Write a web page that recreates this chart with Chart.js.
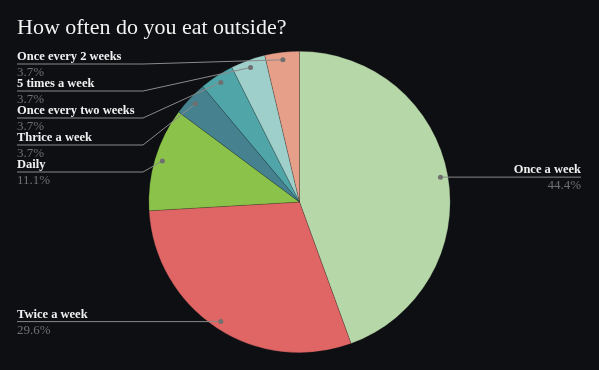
<!DOCTYPE html>
<html>
<head>
<meta charset="utf-8">
<script src="https://cdn.jsdelivr.net/npm/chart.js@4/dist/chart.umd.min.js"></script>
<style>
  html, body { margin: 0; padding: 0; background: #0e0f12; }
  #wrap { width: 599px; height: 370px; position: relative; }
</style>
</head>
<body>
<div id="wrap"><canvas id="pie"></canvas></div>
<script>
// Données du graphique
var titleText = "How often do you eat outside?";
var categories = ["Once a week", "Twice a week", "Daily", "Thrice a week", "Once every two weeks", "5 times a week", "Once every 2 weeks"];
var counts = [12, 8, 3, 1, 1, 1, 1];
var percentLabels = ["44.4%", "29.6%", "11.1%", "3.7%", "3.7%", "3.7%", "3.7%"];
var sliceColors = ["#b6d7a8", "#e06666", "#8bc34a", "#45818e", "#4fa5a8", "#9ecfca", "#e69f89"];

var serif = "'Liberation Serif', 'Times New Roman', serif";

// Titre + étiquettes avec lignes de rappel
var calloutPlugin = {
    id: "callouts",
    beforeDraw: function(chart) {
        var ctx = chart.ctx;
        ctx.save();
        ctx.fillStyle = "#0e0f12";
        ctx.fillRect(0, 0, chart.width, chart.height);
        ctx.fillStyle = "#f2f2f2";
        ctx.font = "22px " + serif;
        ctx.textBaseline = "alphabetic";
        ctx.textAlign = "left";
        ctx.fillText(titleText, 17, 34);
        ctx.restore();
    },
    afterDatasetsDraw: function(chart) {
        var ctx = chart.ctx;
        var arcs = chart.getDatasetMeta(0).data;
        var left = [], right = [];
        for (var i = 0; i < arcs.length; i++) {
            var p = arcs[i].getProps(["x", "y", "startAngle", "endAngle", "outerRadius"], true);
            var mid = (p.startAngle + p.endAngle) / 2;
            var r = p.outerRadius * 0.95;
            var item = { i: i, dx: p.x + Math.cos(mid) * r, dy: p.y + Math.sin(mid) * r };
            if (Math.cos(mid) >= 0) right.push(item); else left.push(item);
        }
        left.sort(function(a, b) { return a.dy - b.dy; });
        var prev = -999;
        left.forEach(function(it) {
            it.ly = Math.max(it.dy, prev + 27, 64);
            prev = it.ly;
        });
        right.forEach(function(it) { it.ly = it.dy; });

        ctx.save();
        ctx.strokeStyle = "#8a8a8a";
        ctx.lineWidth = 1;
        ctx.textBaseline = "alphabetic";

        left.forEach(function(it) {
            ctx.beginPath();
            ctx.moveTo(17, it.ly);
            ctx.lineTo(143, it.ly);
            ctx.lineTo(it.dx, it.dy);
            ctx.stroke();
            drawDot(ctx, it.dx, it.dy);
            ctx.textAlign = "left";
            ctx.fillStyle = "#f0f0f0";
            ctx.font = "bold 12.5px " + serif;
            ctx.fillText(categories[it.i], 17, it.ly - 4);
            ctx.fillStyle = "#707070";
            ctx.font = "13px " + serif;
            ctx.fillText(percentLabels[it.i], 17, it.ly + 12);
        });

        right.forEach(function(it) {
            ctx.beginPath();
            ctx.moveTo(it.dx, it.ly);
            ctx.lineTo(581, it.ly);
            ctx.stroke();
            drawDot(ctx, it.dx, it.dy);
            ctx.textAlign = "right";
            ctx.fillStyle = "#f0f0f0";
            ctx.font = "bold 12.5px " + serif;
            ctx.fillText(categories[it.i], 581, it.ly - 4);
            ctx.fillStyle = "#707070";
            ctx.font = "13px " + serif;
            ctx.fillText(percentLabels[it.i], 581, it.ly + 12);
        });
        ctx.restore();
    }
};

function drawDot(ctx, x, y) {
    ctx.beginPath();
    ctx.arc(x, y, 2.5, 0, Math.PI * 2);
    ctx.fillStyle = "#707070";
    ctx.fill();
}

var ctx = document.getElementById("pie").getContext("2d");
var chart = new Chart(ctx, {
    type: "pie",
    data: {
        labels: categories,
        datasets: [{
            data: counts,
            backgroundColor: sliceColors,
            borderColor: "rgba(20,20,20,0.35)",
            borderWidth: 0.6
        }]
    },
    options: {
        responsive: true,
        maintainAspectRatio: false,
        animation: false,
        layout: { padding: { top: 51, bottom: 17, left: 0, right: 0 } },
        plugins: {
            legend: { display: false },
            title: { display: false },
            tooltip: { enabled: false }
        }
    },
    plugins: [calloutPlugin]
});
</script>
</body>
</html>
